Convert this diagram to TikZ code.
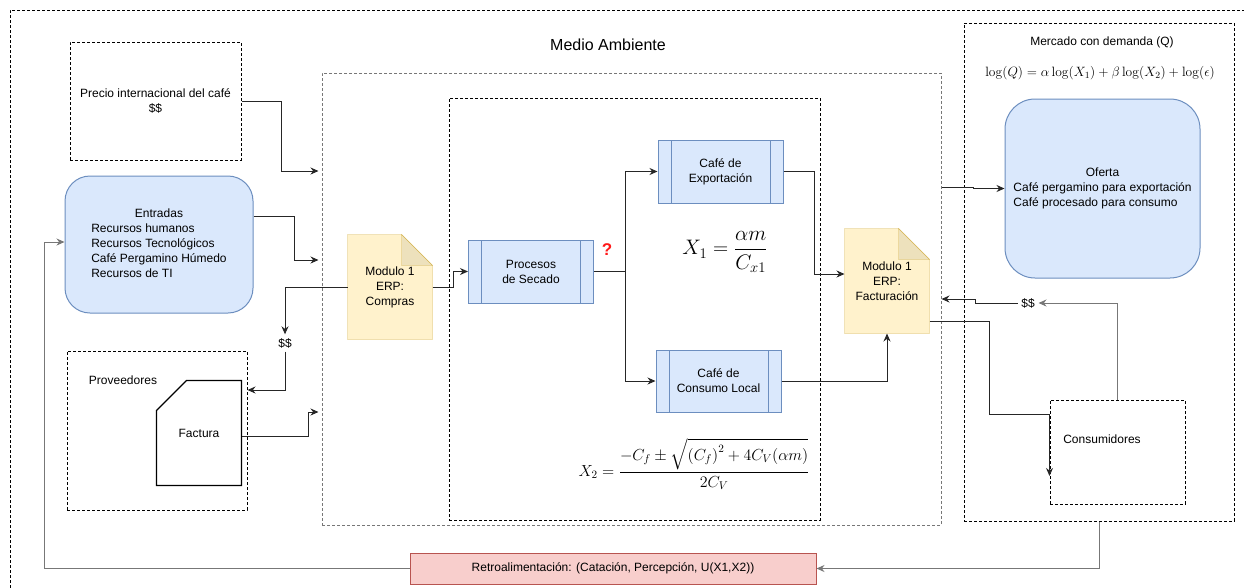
\RequirePackage{fix-cm}
\documentclass[tikz,border=0pt]{standalone}
\usepackage{amsmath}
\usepackage[no-math]{fontspec}
\setmainfont{Liberation Sans}
\usetikzlibrary{arrows.meta,backgrounds}
\definecolor{bluefill}{HTML}{DAE8FC}
\definecolor{blueline}{HTML}{6C8EBF}
\definecolor{docfill}{HTML}{FFF2CC}
\definecolor{docline}{HTML}{D6B656}
\definecolor{docfold}{HTML}{EDE1BC}
\definecolor{redfill}{HTML}{F8CECC}
\definecolor{redline}{HTML}{B85450}
\definecolor{greyline}{HTML}{777777}
\newcommand{\erpdoc}[1]{%
  \filldraw[docline,fill=docfill] (#1.north west) -- ([xshift=-31pt]#1.north east)
    -- ([yshift=-31pt]#1.north east) -- (#1.south east) -- (#1.south west) -- cycle;
  \filldraw[docline,fill=docfold] ([xshift=-31pt]#1.north east)
    -- ([xshift=-31pt,yshift=-31pt]#1.north east) -- ([yshift=-31pt]#1.north east) -- cycle;}

\begin{document}
\begin{tikzpicture}[x=1pt,y=-1pt,line width=1pt,
    font=\fontsize{12}{15}\selectfont,
    marco/.style={draw,dash pattern=on 3pt off 2pt},
    bloque/.style={draw=blueline,fill=bluefill,align=center},
    proceso/.style={draw=blueline,fill=bluefill,minimum width=125pt,minimum height=63pt,align=center,
        path picture={\draw[blueline] ([xshift=13pt]path picture bounding box.north west)
          -- ([xshift=13pt]path picture bounding box.south west)
          ([xshift=-13pt]path picture bounding box.north east)
          -- ([xshift=-13pt]path picture bounding box.south east);}},
    documento/.style={minimum width=84pt,minimum height=104pt,align=center},
    flecha/.style={-{Stealth[length=8pt,width=7pt]},draw=black!85},
    gris/.style={draw=greyline}
]
\useasboundingbox (0,0) rectangle (1244,587);

\node[marco,minimum width=1260pt,minimum height=600pt] (sistema) at (640,310) {};
\node[marco,draw=greyline,minimum width=619pt,minimum height=452pt] (medio) at (631.5,299) {};
\node[marco,minimum width=371pt,minimum height=422pt] (planta) at (634.5,309) {};
\node[marco,minimum width=270pt,minimum height=498pt] (mercado) at (1099,272) {};
\node[font=\fontsize{16}{19}\selectfont] (medioTitulo) at (608,45) {Medio Ambiente};
\node (mercadoTitulo) at (1102,42) {Mercado con demanda (Q)};
\node[font=\fontsize{13.5}{16}\selectfont] (demanda) at (1100,73)
  {$\log(Q) = \alpha\log(X_1) + \beta\log(X_2) + \log(\epsilon)$};

\node[marco,minimum width=171pt,minimum height=118pt,align=center] (precio) at (155.5,101)
  {Precio internacional del café\\\$\$};
\node[bloque,rounded corners=25pt,minimum width=188pt,minimum height=137pt] (entradas) at (159,244.5)
  {\begin{tabular}{@{}l@{}}\multicolumn{1}{@{}c@{}}{Entradas}\\Recursos humanos\\
   Recursos Tecnológicos\\Café Pergamino Húmedo\\Recursos de TI\end{tabular}};
\node[marco,minimum width=180pt,minimum height=159pt] (proveedores) at (157,430.5) {};
\node (provTexto) at (123,380) {Proveedores};
\node[minimum width=84pt,minimum height=104pt] (factura) at (199,433) {Factura};
\node (pagoProv) at (285,343) {\$\$};

\node[documento] (compras) at (390,287) {Modulo 1\\ERP:\\Compras};
\node[proceso] (secado) at (531,271.5) {Procesos\\de Secado};
\node[text=red!90,font=\bfseries\fontsize{17}{20}\selectfont] (duda) at (607,250) {?};
\node[proceso] (exportacion) at (720.5,171.5) {Café de\\Exportación};
\node[proceso,minimum height=62pt] (consumo) at (718.5,381) {Café de\\Consumo Local};
\node[font=\fontsize{21}{24}\selectfont] (formulaUno) at (725,252) {$X_1 = \dfrac{\alpha m}{C_{x1}}$};
\node[font=\fontsize{16}{19}\selectfont] (formulaDos) at (694,464)
  {$X_2 = \dfrac{-C_f\pm\sqrt{\left(C_f\right)^2+4C_V(\alpha m)}}{2C_V}$};
\node[documento] (facturacion) at (887,281) {Modulo 1\\ERP:\\Facturación};

\node[bloque,rounded corners=30pt,minimum width=195pt,minimum height=179pt] (oferta) at (1102.5,188.5)
  {\begin{tabular}{@{}l@{}}\multicolumn{1}{@{}c@{}}{Oferta}\\Café pergamino para exportación\\
   Café procesado para consumo\end{tabular}};
\node (pagoCli) at (1028,303) {\$\$};
\node[marco,minimum width=135pt,minimum height=104pt] (consumidores) at (1117.5,452) {};
\node (consTexto) at (1102,439) {Consumidores};
\node[draw=redline,fill=redfill,minimum width=406pt,minimum height=31pt] (retro) at (613,568.5)
  {Retroalimentación: (Catación, Percepción, U(X1,X2))};

\begin{scope}[on background layer]
  \erpdoc{compras}
  \erpdoc{facturacion}
  \filldraw[draw=black,fill=white,line width=1.2pt] (factura.south west) -- ([yshift=-30pt]factura.north west)
    -- ([xshift=30pt]factura.north west) -- (factura.north east) -- (factura.south east) -- cycle;
\end{scope}

\draw[flecha,shorten >=3pt] (precio.east) -| (281,171) -- (medio.west |- 0,171);
\draw[flecha,shorten >=3pt] (entradas.east |- 0,216) -| (294,260) -- (medio.west |- 0,260);
\draw[flecha] (compras.west) -| (pagoProv.north);
\draw[flecha] (pagoProv.south) |- (proveedores.east |- 0,390);
\draw[flecha,shorten >=3pt] (factura.east |- 0,436) -| (308,412) -- (medio.west |- 0,412);
\draw[flecha] (compras.east) -| (453,271.5) -- (secado.west);
\draw[flecha] (secado.east) -- ++(31,0) coordinate (reparto) |- (exportacion.west);
\draw[flecha] (reparto) |- (consumo.west);
\draw[flecha] (exportacion.east) -| (814,274) -- (facturacion.west |- 0,274);
\draw[flecha] (consumo.east) -| (facturacion.south);
\draw[flecha] (medio.east |- 0,187) -- ++(32,0) |- (oferta.west);
\draw[flecha,gris] (consumidores.north) |- (pagoCli.east);
\draw[flecha] (pagoCli.west) -| (975,299) -- (medio.east |- 0,299);
\draw[flecha] (facturacion.east |- 0,321) -| (989,414) -- (consumidores.west |- 0,414)
  -- (consumidores.west |- 0,476);
\draw[flecha,gris] (mercado.south) |- (retro.east);
\draw[flecha,gris] (retro.west) -| (44,242) -- (entradas.west |- 0,242);
\end{tikzpicture}
\end{document}
